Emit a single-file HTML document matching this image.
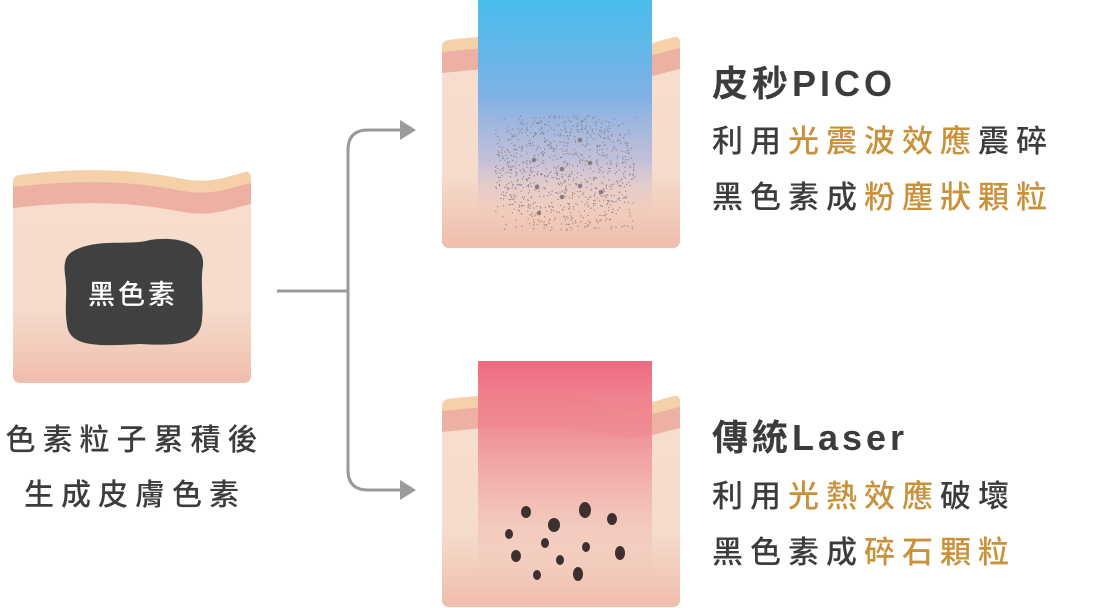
<!DOCTYPE html>
<html><head><meta charset="utf-8"><style>
html,body{margin:0;padding:0;background:#fff;width:1110px;height:608px;overflow:hidden}
svg{display:block}
text{font-family:"Liberation Sans","Noto Sans CJK TC",sans-serif}
</style></head><body>
<svg id="s" width="1110" height="608" viewBox="0 0 1110 608">
<defs>
<linearGradient id="body" x1="0" y1="0" x2="0" y2="1">
<stop offset="0" stop-color="#f6ddcd"/><stop offset="0.5" stop-color="#f5dccb"/><stop offset="1" stop-color="#ecb0a0"/>
</linearGradient>
<linearGradient id="blue" x1="0" y1="0" x2="0" y2="1">
<stop offset="0" stop-color="#48bdec"/><stop offset="0.45" stop-color="#7fb1e6"/><stop offset="0.75" stop-color="#b7b9dc" stop-opacity="0.8"/><stop offset="1" stop-color="#e8c0c0" stop-opacity="0"/>
</linearGradient>
<linearGradient id="red" x1="0" y1="0" x2="0" y2="1">
<stop offset="0" stop-color="#ee6a80"/><stop offset="0.4" stop-color="#f08f95" stop-opacity="0.85"/><stop offset="1" stop-color="#f0b0a8" stop-opacity="0"/>
</linearGradient>
<clipPath id="cc"><path d="M0,16 Q0,10 6,9 C70,1 120,3 170,13 C200,18 215,10 232,6 Q238,5 238,12 L238,209 Q238,217 230,217 L8,217 Q0,217 0,209 Z"/></clipPath>
<path id="w" d="M0,9 C70,1 120,3 170,13 C200,18 215,10 238,5 L238,215 L0,215 Z"/>
<g id="card">
<g clip-path="url(#cc)">
<rect x="0" y="0" width="238" height="217" fill="#f6d0a8"/>
<use href="#w" y="12" fill="#ecb1a2"/>
<use href="#w" y="33" fill="url(#body)"/>
</g>
</g>
</defs>

<use href="#card" x="13" y="166"/>
<path d="M75,250 C100,238 130,246 150,240 C175,236 205,242 203,265 C200,285 204,300 202,320 C200,345 175,346 140,344 C100,346 70,348 67,325 C64,305 68,295 65,275 C63,258 68,254 75,250 Z" fill="#404040"/>
<text x="133" y="304" fill="#fff" font-size="27" font-weight="500" text-anchor="middle" letter-spacing="3">黑色素</text>
<g font-weight="500">
<text x="135" y="450" fill="#3c3c3c" font-size="30" text-anchor="middle" letter-spacing="7">色素粒子累積後</text>
<text x="135" y="505" fill="#3c3c3c" font-size="30" text-anchor="middle" letter-spacing="7">生成皮膚色素</text>
</g>

<g fill="none" stroke="#9a9a9a" stroke-width="3">
<path d="M277,291 L348,291"/>
<path d="M402,130 L368,130 Q348,130 348,150 L348,470 Q348,490 368,490 L402,490"/>
</g>
<path d="M400,120 L416,130 L400,140 Z" fill="#9a9a9a"/>
<path d="M400,480 L416,490 L400,500 Z" fill="#9a9a9a"/>

<use href="#card" x="442" y="31"/>
<rect x="478" y="0" width="174" height="215" fill="url(#blue)"/>
<g id="dots" fill="#8a7d82"></g>

<use href="#card" x="442" y="390"/>
<rect x="478" y="361" width="174" height="215" fill="url(#red)"/>
<g fill="#3e3030">
<ellipse cx="526" cy="512" rx="5" ry="6"/><ellipse cx="585" cy="510" rx="6" ry="8"/><ellipse cx="612" cy="519" rx="5" ry="6"/>
<ellipse cx="554" cy="525" rx="6" ry="7"/><ellipse cx="509" cy="534" rx="4" ry="5"/><ellipse cx="545" cy="543" rx="4" ry="5"/>
<ellipse cx="586" cy="547" rx="4" ry="5"/><ellipse cx="516" cy="556" rx="5" ry="6"/><ellipse cx="560" cy="560" rx="4" ry="5"/>
<ellipse cx="620" cy="553" rx="5" ry="7"/><ellipse cx="537" cy="575" rx="4" ry="5"/><ellipse cx="578" cy="574" rx="5" ry="7"/>
</g>

<g font-size="31" letter-spacing="7" fill="#3c3c3c" font-weight="500">
<text x="712" y="96" font-size="36" font-weight="bold" letter-spacing="4">皮秒PICO</text>
<text x="712" y="152">利用<tspan fill="#c8913a">光震波效應</tspan>震碎</text>
<text x="712" y="208">黑色素成<tspan fill="#c8913a">粉塵狀顆粒</tspan></text>
<text x="712" y="450" font-size="36" font-weight="bold" letter-spacing="4">傳統Laser</text>
<text x="712" y="507">利用<tspan fill="#c8913a">光熱效應</tspan>破壞</text>
<text x="712" y="563">黑色素成<tspan fill="#c8913a">碎石顆粒</tspan></text>
</g>
</svg>
<script>
var g=document.getElementById('dots'),h='',seed=7;
function r(){seed=(seed*9301+49297)%233280;return seed/233280;}
for(var i=0;i<1100;i++){var x=495+r()*140,y=115+r()*115;var dx=(x-565)/70,dy=(y-172)/57;if(dx*dx+dy*dy>1.1&&r()>0.3)continue;h+='<rect x="'+x.toFixed(1)+'" y="'+y.toFixed(1)+'" width="1.1" height="1.1"/>';}
[[580,140],[534,160],[590,163],[562,169],[537,187],[580,186],[601,192],[562,197],[539,213]].forEach(function(p){h+='<circle cx="'+p[0]+'" cy="'+p[1]+'" r="2.3"/>';});
g.innerHTML=h;
</script>
</body></html>
